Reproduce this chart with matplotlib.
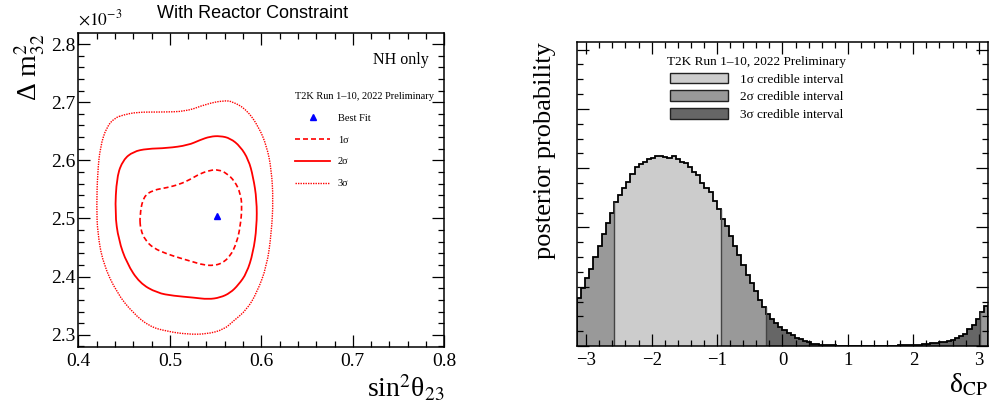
import numpy as np
import matplotlib
matplotlib.use("Agg")
import matplotlib.pyplot as plt
from matplotlib.lines import Line2D
from matplotlib.patches import Patch, PathPatch
from matplotlib.path import Path
from matplotlib.ticker import MultipleLocator, NullFormatter

plt.rcParams['font.family'] = ['Liberation Serif', 'DejaVu Serif']
plt.rcParams['mathtext.fontset'] = 'stix'

# --- left panel: credible contours, sin^2(theta23) vs dm2_32 [1e-3 eV^2] ---
c1_x = [0.467, 0.471, 0.482, 0.497, 0.511, 0.522, 0.533, 0.544, 0.553, 0.562,
        0.571, 0.577, 0.579, 0.577, 0.573, 0.566, 0.557, 0.548, 0.537, 0.524,
        0.511, 0.497, 0.482, 0.473, 0.468]
c1_y = [2.504, 2.538, 2.549, 2.553, 2.559, 2.567, 2.577, 2.583, 2.584, 2.578,
        2.564, 2.544, 2.521, 2.486, 2.458, 2.435, 2.423, 2.419, 2.420, 2.426,
        2.432, 2.439, 2.449, 2.463, 2.481]

c2_x = [0.440, 0.442, 0.449, 0.460, 0.475, 0.497, 0.520, 0.533, 0.544, 0.555,
        0.566, 0.577, 0.586, 0.591, 0.595, 0.595, 0.591, 0.584, 0.575, 0.566,
        0.555, 0.542, 0.526, 0.504, 0.486, 0.467, 0.453, 0.444]
c2_y = [2.509, 2.572, 2.601, 2.615, 2.620, 2.621, 2.626, 2.635, 2.641, 2.642,
        2.638, 2.624, 2.601, 2.572, 2.532, 2.486, 2.441, 2.406, 2.386, 2.372,
        2.364, 2.361, 2.364, 2.367, 2.372, 2.389, 2.423, 2.463]

c3_x = [0.449, 0.464, 0.489, 0.518, 0.540, 0.559, 0.569, 0.584, 0.597, 0.606,
        0.611, 0.613, 0.611, 0.606, 0.595, 0.584, 0.569, 0.559, 0.540, 0.518,
        0.497, 0.478, 0.460, 0.442, 0.427, 0.421, 0.420, 0.421, 0.424, 0.431,
        0.440]
c3_y = [2.678, 2.683, 2.683, 2.684, 2.697, 2.703, 2.701, 2.687, 2.658, 2.624,
        2.584, 2.532, 2.475, 2.418, 2.372, 2.343, 2.323, 2.309, 2.301, 2.301,
        2.306, 2.314, 2.337, 2.372, 2.423, 2.475, 2.521, 2.578, 2.624, 2.658,
        2.673]

best_fit_x = [0.552]
best_fit_y = [2.504]

# --- right panel: posterior of delta_CP, 100 bins over [-pi, pi] ---
post_prob = [
    0.0081, 0.0098, 0.0114, 0.0130, 0.0150, 0.0169, 0.0189, 0.0207, 0.0224, 0.0243,
    0.0254, 0.0266, 0.0277, 0.0290, 0.0302, 0.0307, 0.0310, 0.0315, 0.0318, 0.0320,
    0.0320, 0.0319, 0.0317, 0.0321, 0.0316, 0.0311, 0.0308, 0.0302, 0.0294, 0.0288,
    0.0275, 0.0267, 0.0259, 0.0244, 0.0231, 0.0215, 0.0202, 0.0185, 0.0169, 0.0153,
    0.0137, 0.0120, 0.0106, 0.0092, 0.0078, 0.0066, 0.0054, 0.0046, 0.0039, 0.0032,
    0.0027, 0.0022, 0.0018, 0.0014, 0.0011, 0.0008, 0.0006, 0.0004, 0.0003, 0.0002,
    0.00015, 0.00012, 0.0001, 0.00008, 0.00007, 0.00006, 0.00005, 0.00005, 0.00004, 0.00004,
    0.00004, 0.00004, 0.00004, 0.00005, 0.00005, 0.00006, 0.00007, 0.00008, 0.0001, 0.00012,
    0.00014, 0.00017, 0.0002, 0.00024, 0.0003, 0.00036, 0.00043, 0.0005, 0.0006, 0.0007,
    0.0008, 0.0010, 0.0013, 0.0017, 0.0021, 0.0028, 0.0036, 0.0046, 0.0057, 0.0067,
]
# interval boundaries in delta_CP
ci1_range = (-2.576, -0.942)
ci2_ranges = [(-np.pi, -2.576), (-0.942, -0.251), (3.016, np.pi)]
ci_colors = {1: '#cccccc', 2: '#999999', 3: '#666666'}
ci_labels = ['1σ credible interval', '2σ credible interval', '3σ credible interval']

fig = plt.figure(figsize=(9.89, 4.11), dpi=100)
ax1 = fig.add_axes([0.0792, 0.1557, 0.3701, 0.7640])
ax2 = fig.add_axes([0.5834, 0.1582, 0.4156, 0.7397])


# ---------- left ----------
def smooth_contour(ax, xs, ys, **kw):
    """closed contour drawn with quadratic bezier pieces through the read points"""
    pts = np.column_stack([xs, ys])
    n = len(pts)
    mids = 0.5 * (pts + np.roll(pts, -1, axis=0))
    verts = [mids[-1]]
    codes = [Path.MOVETO]
    for i in range(n):
        verts += [pts[i], mids[i]]
        codes += [Path.CURVE3, Path.CURVE3]
    ax.add_patch(PathPatch(Path(verts, codes), fill=False, **kw))


smooth_contour(ax1, c1_x, c1_y, edgecolor='red', lw=1.2, ls=(0, (3, 1.8)))
smooth_contour(ax1, c2_x, c2_y, edgecolor='red', lw=1.3, ls='-')
smooth_contour(ax1, c3_x, c3_y, edgecolor='red', lw=1.0, ls=(0, (1, 0.8)))
ax1.plot(best_fit_x, best_fit_y, ls='none', marker='^', color='blue', ms=5)

ax1.set_xlim(0.4, 0.8)
ax1.set_ylim(2.279, 2.819)
ax1.xaxis.set_major_locator(MultipleLocator(0.1))
ax1.xaxis.set_minor_locator(MultipleLocator(0.02))
ax1.yaxis.set_major_locator(MultipleLocator(0.1))
ax1.yaxis.set_minor_locator(MultipleLocator(0.02))
ax1.xaxis.set_major_formatter(plt.FuncFormatter(lambda v, p: f'{v:.1f}'))
ax1.yaxis.set_major_formatter(plt.FuncFormatter(lambda v, p: f'{v:.1f}'))

ax1.set_xlabel(r'sin$^{2}$θ$_{23}$', fontsize=20)
ax1.xaxis.set_label_coords(1.0, -0.13)
ax1.xaxis.label.set_ha('right')
ax1.xaxis.label.set_va('center')
ax1.set_ylabel(r'Δ m$^{2}_{32}$', fontsize=20)
ax1.yaxis.set_label_coords(-0.132, 1.0)
ax1.yaxis.label.set_ha('right')
ax1.yaxis.label.set_va('center')

ax1.text(0.0, 1.045, r'$\times10^{-3}$', transform=ax1.transAxes, fontsize=12.5,
         ha='left', va='center')
ax1.text(0.958, 0.914, 'NH only', transform=ax1.transAxes, fontsize=11.5,
         ha='right', va='center')

h_left = [Line2D([], [], ls='none', marker='^', color='blue', ms=5),
          Line2D([], [], color='red', lw=1.2, ls=(0, (3, 1.8))),
          Line2D([], [], color='red', lw=1.3),
          Line2D([], [], color='red', lw=1.0, ls=(0, (1, 0.8)))]
ax1.legend(h_left, ['Best Fit', '1σ', '2σ', '3σ'],
           title='T2K Run 1–10, 2022 Preliminary', title_fontsize=7.5,
           fontsize=7.5, loc='upper left', bbox_to_anchor=(0.592, 0.812),
           frameon=False, borderpad=0, borderaxespad=0, labelspacing=1.2,
           handlelength=3.4, handletextpad=0.7, alignment='left')

fig.text(253 / 989, 1 - 14 / 411, 'With Reactor Constraint', fontsize=13,
         family='Liberation Sans', ha='center', va='center')

# ---------- right ----------
edges = np.linspace(-np.pi, np.pi, len(post_prob) + 1)
centers = 0.5 * (edges[:-1] + edges[1:])
width = edges[1] - edges[0]
level = np.full(len(post_prob), 3)
for lo, hi in ci2_ranges:
    level[(centers > lo) & (centers < hi)] = 2
level[(centers > ci1_range[0]) & (centers < ci1_range[1])] = 1
ax2.bar(centers, post_prob, width=width, color=[ci_colors[l] for l in level],
        linewidth=0)
# interval edges as thin gray verticals
vals = np.array(post_prob)
for b in np.where(np.diff(level) != 0)[0]:
    ax2.vlines(edges[b + 1], 0, max(vals[b], vals[b + 1]), color='#444444', lw=1.0)
ax2.stairs(post_prob, edges, color='black', lw=1.3)

ax2.set_xlim(-np.pi, np.pi)
ax2.set_ylim(0, 0.0513)
ax2.xaxis.set_major_locator(MultipleLocator(1))
ax2.xaxis.set_minor_locator(MultipleLocator(0.2))
ax2.yaxis.set_major_locator(MultipleLocator(0.01))
ax2.yaxis.set_minor_locator(MultipleLocator(0.0025))
ax2.yaxis.set_major_formatter(NullFormatter())

ax2.set_xlabel(r'δ$_{\mathrm{CP}}$', fontsize=20)
ax2.xaxis.set_label_coords(1.0, -0.128)
ax2.xaxis.label.set_ha('right')
ax2.xaxis.label.set_va('center')
ax2.set_ylabel('posterior probability', fontsize=19)
ax2.yaxis.set_label_coords(-0.078, 1.0)
ax2.yaxis.label.set_ha('right')
ax2.yaxis.label.set_va('center')

h_right = [Patch(facecolor=ci_colors[k], edgecolor='#222222', lw=1.0) for k in (1, 2, 3)]
ax2.legend(h_right, ci_labels, title='T2K Run 1–10, 2022 Preliminary',
           title_fontsize=9.5, fontsize=9.5, loc='upper left',
           bbox_to_anchor=(0.219, 0.955), frameon=False, borderpad=0,
           borderaxespad=0, labelspacing=0.37, handlelength=4.4,
           handleheight=0.9, handletextpad=0.9)

for ax in (ax1, ax2):
    for s in ax.spines.values():
        s.set_linewidth(1.1)
    ax.tick_params(which='both', direction='in', top=True, right=True, width=0.9)
    ax.tick_params(which='major', length=8.5)
    ax.tick_params(which='minor', length=4.3)
    ax.tick_params(axis='both', labelsize=14)
    ax.tick_params(axis='x', pad=4)
    ax.tick_params(axis='y', pad=2)
ax2.tick_params(axis='x', labelsize=13.5)

fig.savefig('out.png', dpi=100)
